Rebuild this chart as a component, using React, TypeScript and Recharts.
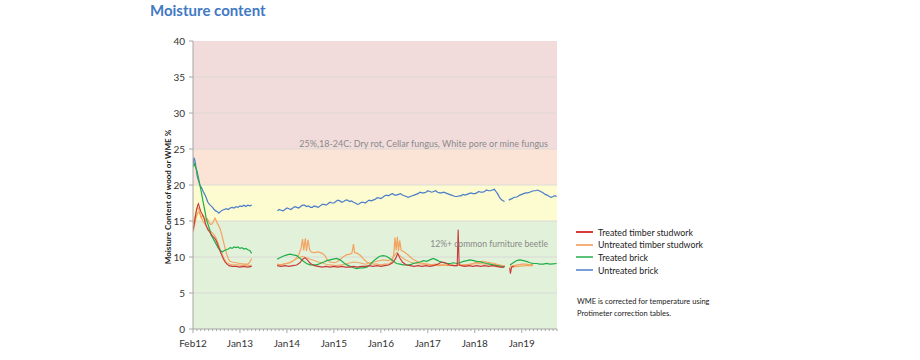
import React from "react";
import { LineChart, Line, XAxis, YAxis, ReferenceArea, ReferenceLine } from "recharts";

type Pt = [number, number | null];

// x = months from the first reading (Feb12), y = moisture %
const treatedTimber: Pt[] = [
  [0, 13.8], [0.3, 14.5], [0.6, 15.6], [0.9, 16.6], [1.2, 17.2], [1.4, 17.4], [1.7, 16.8], [2.0, 16.3],
  [2.3, 16.0], [2.7, 15.6], [3.0, 15.0], [3.4, 14.3], [3.8, 13.8], [4.2, 13.5], [4.6, 13.2], [5.0, 12.9],
  [5.4, 12.7], [5.8, 12.4], [6.2, 11.9], [6.6, 11.3], [7.0, 10.7], [7.4, 10.2], [7.8, 9.7], [8.2, 9.3],
  [8.7, 9.0], [9.2, 8.8], [10.0, 8.7], [11.0, 8.7], [12.0, 8.6], [13.0, 8.7], [14.0, 8.6], [15.0, 8.7],
  [15.2, null],
  [21.5, 8.8], [22.5, 8.7], [23.5, 8.8], [24.5, 8.7], [25.5, 8.8], [26.5, 8.9], [27.3, 9.2], [28.0, 9.7],
  [28.6, 9.9], [29.2, 9.6], [30.0, 9.1], [31.0, 8.8], [32.0, 8.7], [33.0, 8.6], [34.0, 8.7], [35.0, 8.6],
  [36.0, 8.7], [37.0, 8.6], [38.0, 8.7], [39.0, 8.6], [40.0, 8.6], [41.0, 8.7], [42.0, 8.6], [43.0, 8.7],
  [44.0, 8.7], [45.0, 8.8], [46.0, 8.7], [47.0, 8.8], [48.0, 8.7], [49.0, 8.8], [50.0, 8.9], [51.0, 9.2],
  [51.8, 9.8], [52.3, 10.5], [52.8, 9.9], [53.5, 9.3], [54.5, 8.9], [55.5, 8.8], [56.5, 8.7], [57.5, 8.8],
  [58.5, 8.7], [59.5, 8.8], [60.5, 8.7], [61.5, 8.8], [62.5, 9.0], [63.5, 9.3], [64.5, 9.2], [65.5, 8.9],
  [66.5, 8.8], [67.5, 8.8], [67.75, 13.8], [68.0, 8.9], [68.5, 8.8], [69.5, 8.7], [70.5, 8.8], [71.5, 8.7],
  [72.5, 8.8], [73.5, 8.7], [74.5, 8.8], [75.5, 8.7], [76.5, 8.8], [77.5, 8.7], [78.5, 8.6], [79.5, 8.6],
  [80.0, null],
  [80.9, 8.5], [81.1, 7.7], [81.4, 8.6], [82.0, 8.7],
];

const untreatedTimber: Pt[] = [
  [0, 13.4], [0.3, 14.2], [0.6, 15.0], [0.9, 15.7], [1.2, 16.1], [1.5, 16.3], [1.8, 15.9], [2.1, 15.5],
  [2.5, 15.8], [2.9, 15.4], [3.3, 15.0], [3.7, 15.3], [4.1, 14.8], [4.5, 14.5], [4.9, 14.6], [5.3, 15.0],
  [5.6, 15.4], [5.9, 15.1], [6.2, 14.7], [6.6, 14.3], [7.0, 13.8], [7.4, 13.0], [7.8, 12.1], [8.2, 11.2],
  [8.6, 10.4], [9.0, 9.8], [9.4, 9.4], [10.0, 9.3], [11.0, 9.2], [12.0, 9.1], [13.0, 9.0], [14.0, 9.0],
  [14.5, 9.3], [15.0, 9.8], [15.2, null],
  [21.5, 9.0], [22.3, 8.9], [23.1, 9.0], [24.0, 9.1], [24.8, 9.2], [25.5, 9.4], [26.3, 9.8], [27.0, 10.3],
  [27.6, 11.2], [28.0, 12.5], [28.3, 10.9], [28.7, 12.6], [29.0, 10.8], [29.4, 12.4], [29.8, 11.0], [30.2, 10.7],
  [31.0, 10.6], [32.0, 10.7], [33.0, 10.5], [33.7, 10.2], [34.3, 9.6], [35.0, 9.3], [36.0, 9.2], [36.7, 9.3],
  [37.5, 9.6], [38.3, 10.0], [39.2, 10.3], [40.0, 10.4], [40.6, 10.5], [41.0, 11.8], [41.3, 10.6], [42.0, 10.5],
  [42.8, 10.2], [43.6, 9.7], [44.4, 9.3], [45.3, 9.1], [46.2, 9.0], [47.0, 9.0], [48.0, 8.9], [49.0, 9.0],
  [50.0, 9.0], [50.8, 9.3], [51.3, 10.4], [51.6, 12.7], [51.9, 10.9], [52.2, 12.8], [52.5, 10.8], [52.8, 12.3],
  [53.2, 10.9], [53.7, 10.8], [54.5, 10.5], [55.3, 10.1], [56.2, 9.7], [57.2, 9.4], [58.0, 9.2], [59.0, 9.1],
  [60.0, 9.0], [61.0, 8.9], [62.0, 9.0], [63.0, 8.9], [64.0, 8.9], [65.0, 8.8], [66.0, 8.9], [67.0, 8.8],
  [68.0, 8.9], [69.0, 8.8], [70.0, 8.9], [71.0, 9.0], [72.0, 9.2], [73.0, 9.3], [74.0, 9.4], [75.0, 9.3],
  [76.0, 9.2], [77.0, 9.1], [78.0, 8.9], [79.0, 8.8], [79.7, 8.7], [80.2, null],
  [81.0, 8.7], [82.0, 8.8], [83.0, 8.9], [84.0, 9.0], [85.0, 9.0], [86.0, 8.9], [86.9, 9.0],
];

// second untreated timber sensor, same colour, not in the legend
const untreatedTimber2: Pt[] = [
  [0, 14.6], [0.4, 15.4], [0.8, 16.2], [1.2, 16.9], [1.6, 16.5], [2.0, 15.7], [2.5, 15.0], [3.0, 14.6],
  [3.5, 14.2], [4.0, 13.9], [4.5, 13.6], [5.0, 13.3], [5.5, 13.0], [6.0, 12.5], [6.5, 11.8], [7.0, 11.0],
  [7.5, 10.3], [8.0, 9.7], [8.6, 9.2], [9.5, 9.0], [10.5, 8.9], [11.5, 8.9], [12.5, 8.8], [13.5, 8.9],
  [14.5, 8.8], [15.0, 8.9], [15.2, null],
  [21.5, 8.9], [23.0, 9.0], [24.5, 9.2], [26.0, 9.6], [27.0, 9.9], [28.0, 10.1], [29.0, 9.9], [30.0, 9.7],
  [31.0, 9.5], [32.0, 9.3], [33.0, 9.2], [34.0, 9.0], [35.0, 8.9], [36.5, 8.8], [38.0, 8.9], [39.5, 9.1],
  [41.0, 9.3], [42.5, 9.2], [44.0, 9.0], [45.5, 9.2], [47.0, 9.4], [48.5, 9.6], [50.0, 9.5], [51.0, 9.8],
  [52.0, 10.6], [52.8, 10.2], [54.0, 9.7], [55.5, 9.3], [57.0, 9.1], [59.0, 9.0], [61.0, 8.9], [63.0, 8.8],
  [65.0, 8.9], [67.0, 8.8], [69.0, 8.9], [71.0, 9.0], [73.0, 9.1], [75.0, 9.0], [77.0, 8.9], [79.0, 8.8],
  [79.7, 8.7], [80.2, null],
  [81.0, 8.6], [83.0, 8.7], [85.0, 8.8], [86.9, 8.8],
];

const treatedBrick: Pt[] = [
  [0, 22.5], [0.3, 23.0], [0.7, 22.4], [1.0, 22.0], [1.4, 21.0], [1.8, 19.9], [2.2, 18.8], [2.6, 17.6],
  [3.0, 16.5], [3.4, 15.3], [3.8, 14.6], [4.2, 13.9], [4.6, 13.1], [5.0, 12.7], [5.5, 12.2], [6.0, 11.7],
  [6.5, 11.2], [7.0, 10.9], [7.5, 10.7], [8.0, 10.9], [8.5, 11.0], [9.0, 11.1], [9.5, 11.3], [10.0, 11.2],
  [10.5, 11.4], [11.0, 11.3], [11.5, 11.4], [12.0, 11.2], [12.5, 11.3], [13.0, 11.1], [13.5, 11.2], [14.0, 11.0],
  [14.5, 10.9], [15.0, 10.5], [15.2, null],
  [21.5, 9.7], [22.2, 9.9], [23.0, 10.1], [24.0, 10.3], [24.8, 10.4], [25.6, 10.3], [26.5, 10.2], [27.4, 9.8],
  [28.2, 9.4], [29.0, 9.1], [29.9, 8.9], [30.8, 8.9], [31.6, 8.9], [32.5, 9.1], [33.4, 9.3], [34.2, 9.5],
  [35.0, 9.6], [35.8, 9.7], [36.7, 9.8], [37.6, 9.6], [38.5, 9.2], [39.3, 8.9], [40.2, 8.7], [41.0, 8.5],
  [41.8, 8.4], [42.7, 8.5], [43.5, 8.5], [44.4, 8.6], [45.2, 8.9], [46.0, 9.4], [46.9, 9.8], [47.7, 10.1],
  [48.6, 10.2], [49.4, 10.1], [50.3, 9.8], [51.2, 9.4], [52.0, 9.1], [52.9, 9.0], [53.8, 8.9], [54.6, 8.9],
  [55.4, 8.9], [56.3, 9.1], [57.1, 9.2], [58.0, 9.3], [58.9, 9.5], [59.7, 9.4], [60.5, 9.6], [61.4, 9.8],
  [62.2, 9.6], [63.1, 9.35], [64.0, 9.2], [64.8, 9.1], [65.7, 9.1], [66.5, 9.2], [67.4, 9.1], [68.2, 9.2],
  [69.1, 9.4], [70.0, 9.5], [70.8, 9.6], [71.7, 9.5], [72.5, 9.4], [73.3, 9.35], [74.2, 9.2], [75.0, 9.1],
  [75.9, 9.0], [76.7, 8.9], [77.6, 8.8], [78.4, 8.75], [79.2, 8.6], [79.7, 8.7], [80.2, null],
  [81.0, 8.9], [81.8, 9.2], [82.7, 9.5], [83.5, 9.6], [84.4, 9.5], [85.2, 9.4], [86.1, 9.2], [86.9, 9.1],
  [87.8, 9.1], [88.6, 9.0], [89.5, 9.0], [90.3, 9.1], [91.2, 9.0], [92.0, 9.05], [92.9, 9.1],
];

const untreatedBrick: Pt[] = [
  [0, 22.9], [0.25, 23.8], [0.5, 23.4], [0.8, 22.3], [1.1, 21.2], [1.4, 20.6], [1.8, 19.9], [2.2, 19.6],
  [2.6, 19.1], [3.0, 18.7], [3.4, 18.2], [3.8, 17.6], [4.2, 17.3], [4.6, 17.1], [5.0, 16.9], [5.4, 16.6],
  [5.8, 16.4], [6.2, 16.3], [6.6, 16.1], [7.0, 16.3], [7.5, 16.5], [8.0, 16.6], [8.5, 16.7], [9.0, 16.6],
  [9.5, 16.8], [10.0, 16.9], [10.5, 16.8], [11.0, 17.0], [11.5, 16.9], [12.0, 17.1], [12.5, 17.0], [13.0, 17.2],
  [13.5, 17.0], [14.0, 17.2], [14.5, 17.1], [15.0, 17.2], [15.2, null],
  [21.6, 16.4], [22.0, 16.6], [22.5, 16.5], [23.0, 16.4], [23.5, 16.6], [24.0, 16.8], [24.5, 16.7], [25.0, 16.6],
  [25.5, 16.8], [26.0, 17.0], [26.5, 16.9], [27.0, 16.8], [27.5, 17.0], [28.0, 17.2], [28.5, 17.2], [29.0, 17.0],
  [29.5, 17.1], [30.0, 16.9], [30.5, 16.9], [31.0, 17.1], [31.5, 17.0], [32.0, 16.9], [32.5, 17.1], [33.0, 17.3],
  [33.5, 17.3], [34.0, 17.2], [34.5, 17.4], [35.0, 17.6], [35.5, 17.5], [36.0, 17.5], [36.5, 17.7], [37.0, 17.9],
  [37.5, 17.8], [38.0, 17.6], [38.5, 17.7], [39.0, 17.9], [39.5, 17.9], [40.0, 17.7], [40.5, 17.8], [41.0, 17.6],
  [41.5, 17.5], [42.0, 17.3], [42.5, 17.4], [43.0, 17.6], [43.5, 17.6], [44.0, 17.5], [44.5, 17.7], [45.0, 17.9],
  [45.5, 17.8], [46.0, 17.9], [46.5, 18.0], [47.0, 18.2], [47.5, 18.2], [48.0, 18.1], [48.5, 18.3], [49.0, 18.5],
  [49.5, 18.6], [50.0, 18.5], [50.5, 18.7], [51.0, 18.8], [51.5, 18.6], [52.0, 18.6], [52.5, 18.7], [53.0, 18.8],
  [53.5, 18.6], [54.0, 18.5], [54.5, 18.4], [55.0, 18.3], [55.5, 18.4], [56.0, 18.5], [56.5, 18.6], [57.0, 18.7],
  [57.5, 18.8], [58.0, 19.0], [58.5, 18.9], [59.0, 18.9], [59.5, 19.0], [60.0, 19.2], [60.5, 19.1], [61.0, 19.0],
  [61.5, 19.1], [62.0, 19.2], [62.5, 19.0], [63.0, 18.9], [63.5, 18.9], [64.0, 19.0], [64.5, 18.9], [65.0, 18.8],
  [65.5, 18.7], [66.0, 18.6], [66.5, 18.5], [67.0, 18.4], [67.5, 18.4], [68.0, 18.5], [68.5, 18.5], [69.0, 18.7],
  [69.5, 18.6], [70.0, 18.7], [70.5, 18.8], [71.0, 18.9], [71.5, 18.8], [72.0, 18.8], [72.5, 18.9], [73.0, 19.1],
  [73.5, 19.0], [74.0, 19.0], [74.5, 19.1], [75.0, 19.3], [75.5, 19.2], [76.0, 19.2], [76.5, 19.3], [77.0, 19.4],
  [77.4, 19.1], [77.8, 18.8], [78.4, 18.2], [78.9, 17.9], [79.6, 17.7], [80.1, null],
  [80.7, 17.9], [81.0, 18.0], [81.5, 18.1], [82.0, 18.3], [82.5, 18.3], [83.0, 18.4], [83.5, 18.6], [84.0, 18.7],
  [84.5, 18.8], [85.0, 18.9], [85.5, 18.9], [86.0, 19.0], [86.5, 19.1], [87.0, 19.2], [87.5, 19.2], [88.0, 19.3],
  [88.4, 19.2], [88.8, 19.1], [89.2, 19.0], [89.5, 18.9], [90.0, 18.7], [90.5, 18.6], [91.0, 18.4], [91.5, 18.3],
  [92.0, 18.4], [92.3, 18.5], [92.6, 18.5], [92.9, 18.4],
];

const yearTicks = [0, 12, 24, 36, 48, 60, 72, 84];
const yearLabels = ["Feb12", "Jan13", "Jan14", "Jan15", "Jan16", "Jan17", "Jan18", "Jan19"];
const yTicks = [0, 5, 10, 15, 20, 25, 30, 35, 40];
const bandLimits = [0, 15, 20, 25, 40];
const bandColors = ["#e2f1d9", "#fdfbd0", "#fbe4d6", "#f2dcdb"];

const riskNotes = [
  { y: 25.7, text: "25%,18-24C: Dry rot, Cellar fungus, White pore or mine fungus", size: 9 },
  { y: 11.8, text: "12%+ common furniture beetle", size: 8.6 },
];

const FONT = "Lato, 'Open Sans', sans-serif";
const MAX_MONTH = 93;
const monthTicks = Array.from({ length: MAX_MONTH + 1 }, (_, i) => i);

const series = [
  { name: "Treated timber studwork", color: "#d83a3a" },
  { name: "Untreated timber studwork", color: "#f6b07a" },
  { name: "Treated brick", color: "#5cc47a" },
  { name: "Untreated brick", color: "#7a9fd6" },
];

const rows = (pts: Pt[]) => pts.map(([m, v]) => ({ m, v }));

function MonthTick(props: any) {
  const { x, y, payload } = props;
  const idx = yearTicks.indexOf(payload.value);
  const major = idx >= 0;
  return (
    <g>
      <line x1={x} x2={x} y1={y} y2={y + (major ? 4 : 2)} stroke="#a6a6a6" />
      {major && (
        <text x={x} y={y + 18} textAnchor="middle" fontSize={10} fill="#333">
          {yearLabels[idx]}
        </text>
      )}
    </g>
  );
}

export default function App() {
  return (
    <div
      style={{
        position: "absolute",
        left: 0,
        top: 0,
        width: 920,
        height: 360,
        background: "#fff",
        fontFamily: FONT,
      }}
    >
      <div
        style={{
          position: "absolute",
          left: 150,
          top: 1,
          fontSize: 15,
          fontWeight: 700,
          color: "#4279c4",
        }}
      >
        Moisture content
      </div>

      <LineChart width={920} height={360} margin={{ top: 41, right: 363, bottom: 0, left: 0 }}>
        {bandColors.map((c, i) => (
          <ReferenceArea
            key={c}
            y1={bandLimits[i]}
            y2={bandLimits[i + 1]}
            fill={c}
            fillOpacity={1}
            stroke="none"
          />
        ))}
        {yTicks.slice(1, -1).map((t) => (
          <ReferenceLine key={t} y={t} stroke="#d6d6d6" strokeWidth={0.8} />
        ))}
        {riskNotes.map((n) => (
          <ReferenceLine
            key={n.text}
            y={n.y}
            stroke="none"
            label={{ value: n.text, position: "insideRight", offset: 9, fill: "#8a8a8a", fontSize: n.size }}
          />
        ))}
        <XAxis
          type="number"
          dataKey="m"
          domain={[0, MAX_MONTH]}
          ticks={monthTicks}
          interval={0}
          tick={<MonthTick />}
          tickLine={false}
          tickSize={0}
          tickMargin={0}
          axisLine={{ stroke: "#a6a6a6" }}
          height={31}
          allowDataOverflow
        />
        <YAxis
          type="number"
          domain={[0, 40]}
          ticks={yTicks}
          interval={0}
          width={193}
          tickSize={4}
          tickMargin={4}
          tick={{ fontSize: 10, fill: "#333" }}
          tickLine={{ stroke: "#a6a6a6" }}
          axisLine={{ stroke: "#a6a6a6" }}
        />
        <Line data={rows(untreatedBrick)} dataKey="v" name="Untreated brick" stroke="#4a7cc8" strokeWidth={1.2} dot={false} activeDot={false} isAnimationActive={false} />
        <Line data={rows(untreatedTimber2)} dataKey="v" name="Untreated timber 2" legendType="none" stroke="#f0a868" strokeWidth={1.1} dot={false} activeDot={false} isAnimationActive={false} />
        <Line data={rows(untreatedTimber)} dataKey="v" name="Untreated timber studwork" stroke="#f5a25e" strokeWidth={1.2} dot={false} activeDot={false} isAnimationActive={false} />
        <Line data={rows(treatedBrick)} dataKey="v" name="Treated brick" stroke="#1fae48" strokeWidth={1.2} dot={false} activeDot={false} isAnimationActive={false} />
        <Line data={rows(treatedTimber)} dataKey="v" name="Treated timber studwork" stroke="#c8383a" strokeWidth={1.1} dot={false} activeDot={false} isAnimationActive={false} />
      </LineChart>

      <div
        style={{
          position: "absolute",
          left: 168,
          top: 197,
          transform: "translate(-50%, -50%) rotate(-90deg)",
          whiteSpace: "nowrap",
          fontSize: 8,
          lineHeight: "10px",
          fontWeight: 700,
          color: "#222",
        }}
      >
        Moisture Content of wood or WME %
      </div>

      <div style={{ position: "absolute", left: 576, top: 226, fontSize: 8.8, color: "#222" }}>
        {series.map((s) => (
          <div key={s.name} style={{ display: "flex", alignItems: "center", height: 12.6 }}>
            <div style={{ width: 17, height: 2, background: s.color, marginRight: 5 }} />
            <span>{s.name}</span>
          </div>
        ))}
      </div>

      <div style={{ position: "absolute", left: 577, top: 296, fontSize: 7.5, lineHeight: "11.6px", color: "#222" }}>
        WME is corrected for temperature using
        <br />
        Protimeter correction tables.
      </div>
    </div>
  );
}
